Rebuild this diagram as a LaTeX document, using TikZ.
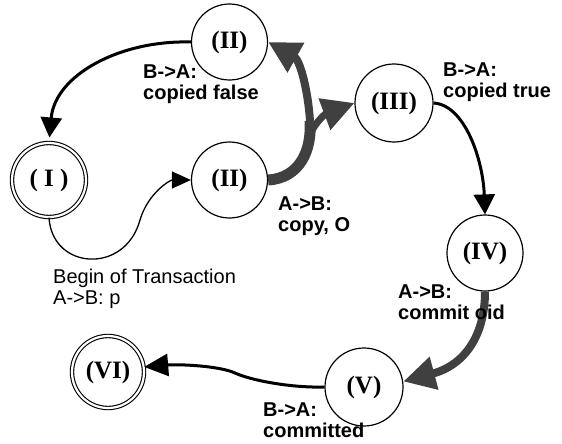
\documentclass[tikz,border=0pt]{standalone}
\usepackage{fontspec}
\setmainfont{Liberation Serif}
\newfontfamily\labfont{Liberation Sans}
\usetikzlibrary{arrows.meta}
\definecolor{darkg}{HTML}{404040}
\begin{document}
\begin{tikzpicture}[x=1pt,y=-1pt,
  state/.style={circle,draw,line width=1.2pt,inner sep=0pt,
    font=\fontsize{25}{25}\selectfont\bfseries},
  final/.style={double,line width=1.1pt,double distance=2.2pt},
  blk/.style={line width=3pt,-{Triangle[length=20pt,width=21pt]}},
  thinarr/.style={line width=1.3pt,-{Triangle[length=19pt,width=17pt]}},
  gr/.style={draw=darkg,color=darkg},
  bighead/.style={-{Triangle[length=32pt,width=32pt]}},
  lab/.style={font=\labfont\fontsize{20}{21}\selectfont\bfseries,align=left,inner sep=0pt,anchor=north west},
  labn/.style={font=\labfont\fontsize{20}{21}\selectfont,align=left,inner sep=0pt,anchor=north west}]
\useasboundingbox (0,0) rectangle (562,444);

\node[state,final,minimum size=74pt] (I) at (49,180) {( I )};
\node[state,minimum size=76pt] (IIa) at (229.5,42) {(II)};
\node[state,minimum size=76pt] (IIb) at (229.5,180) {(II)};
\node[state,minimum size=78pt] (III) at (394,103) {(III)};
\node[state,minimum size=76pt] (IV) at (485,253) {(IV)};
\node[state,minimum size=78pt] (V) at (364,387) {(V)};
\node[state,final,minimum size=72pt] (VI) at (108,372) {(VI)};

% IIa -> I
\draw[blk,shorten >=5pt] (IIa.west) .. controls (120,40) and (55,75) .. (I.north);
% I -> IIb
\draw[thinarr] (I.south) .. controls (52,270) and (125,275) .. (140,220)
  .. controls (148,193) and (170,180) .. (IIb.west);
% gray fork from IIb
\coordinate (fork) at (310,121);
\coordinate (fork2) at (310.5,133);
\draw[gr,line width=11pt] (IIb.east) .. controls (300,178) and (312,150) .. (fork);
\draw[gr,line width=8pt,bighead] (fork) .. controls (308,90) and (300,60) .. (IIa.east);
\draw[gr,line width=7pt,bighead] (fork2) .. controls (316,122) and (325,114) .. (III.west);
% III -> IV
\draw[blk] (III.east) .. controls (465,105) and (483,160) .. (IV.north);
% IV -> V
\draw[gr,line width=8pt,bighead] (IV.south) .. controls (485,335) and (465,365) .. (V.8);
% V -> VI
\draw[line width=3pt,-{Triangle[length=24pt,width=22pt]}] (V.west) .. controls (290,388) and (250,380) .. (235,373)
  .. controls (220,366) and (180,364) .. (VI.8);

\node[lab] (l1) at (143,65) {B->A:\\copied false};
\node[lab] (l2) at (278,197) {A->B:\\copy, O};
\node[lab] (l3) at (443,63) {B->A:\\copied true};
\node[lab] (l4) at (398,285) {A->B:\\commit oid};
\node[lab] (l5) at (263,403) {B->A:\\committed};
\node[labn] (l6) at (53,269) {Begin of Transaction\\A->B: p};
\end{tikzpicture}
\end{document}
